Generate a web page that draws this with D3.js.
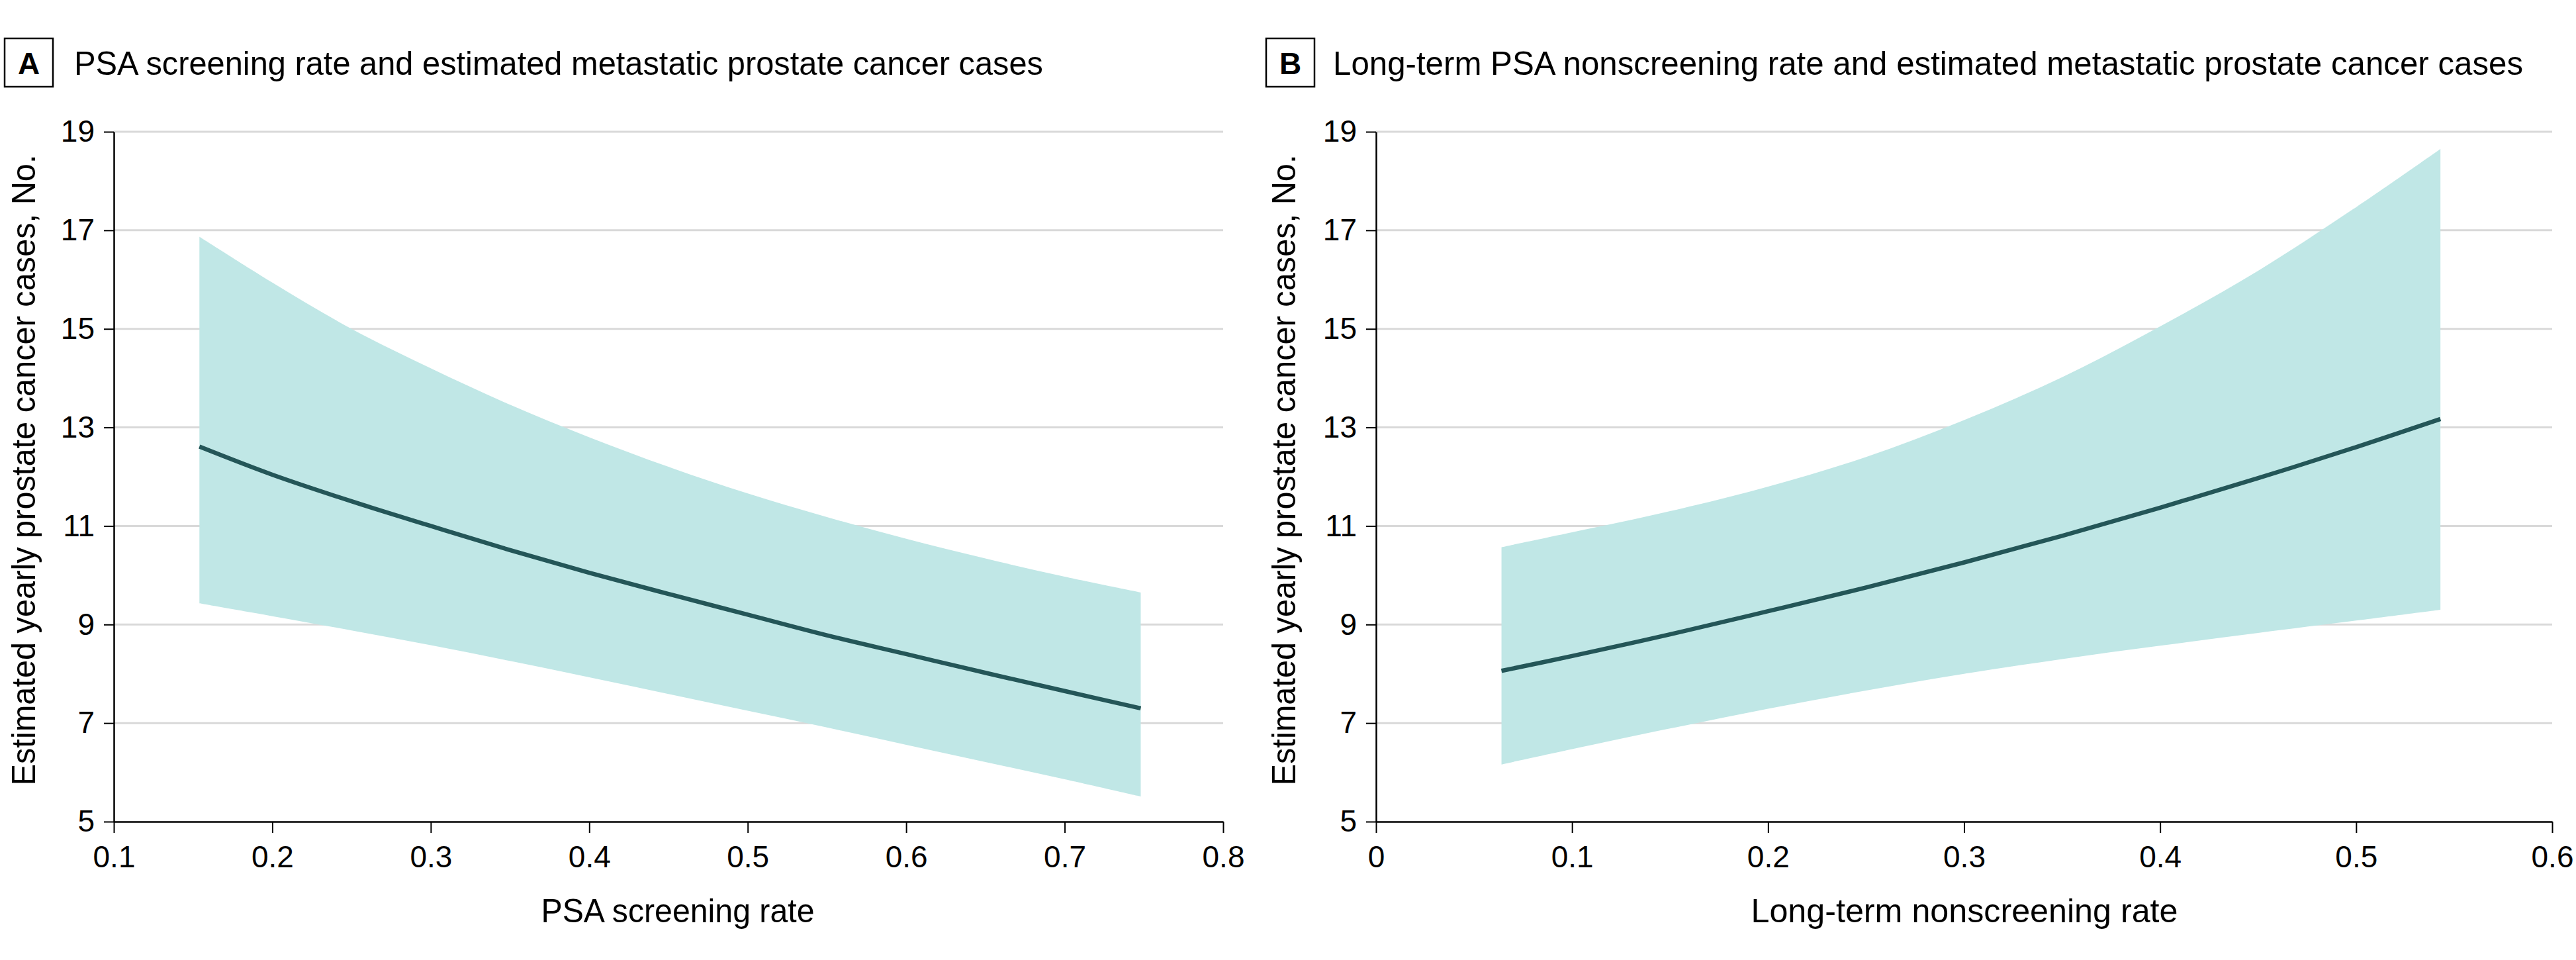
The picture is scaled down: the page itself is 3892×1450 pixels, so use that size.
<!DOCTYPE html>
<html>
<head>
<meta charset="utf-8">
<script src="https://cdn.jsdelivr.net/npm/d3@7"></script>
<style>
  html, body { margin: 0; padding: 0; background: #fff; }
  svg { display: block; }
  text { font-family: "Liberation Sans Narrow", "Liberation Sans", Arial, sans-serif; fill: #000; }
</style>
</head>
<body>
<svg id="chart" width="3892" height="1450"></svg>
<script>
// ---------- Data ----------
const yTicks = [5, 7, 9, 11, 13, 15, 17, 19];
const xTicksA = [0.1, 0.2, 0.3, 0.4, 0.5, 0.6, 0.7, 0.8];
const xTicksB = [0, 0.1, 0.2, 0.3, 0.4, 0.5, 0.6];

// Panel A: PSA screening rate
const xA     = [0.154, 0.2, 0.25, 0.3, 0.35, 0.4, 0.45, 0.5, 0.55, 0.6, 0.65, 0.7, 0.748];
const estA   = [12.61, 12.04, 11.5, 11.0, 10.51, 10.05, 9.62, 9.2, 8.78, 8.40, 8.02, 7.65, 7.30];
const upperA = [16.87, 15.94, 15.0, 14.2, 13.46, 12.8, 12.2, 11.66, 11.18, 10.74, 10.34, 9.97, 9.65];
const lowerA = [9.43, 9.17, 8.88, 8.58, 8.26, 7.93, 7.59, 7.25, 6.91, 6.56, 6.21, 5.86, 5.51];

// Panel B: Long-term nonscreening rate
const xB     = [0.064, 0.1, 0.15, 0.2, 0.25, 0.3, 0.35, 0.4, 0.45, 0.5, 0.543];
const estB   = [8.06, 8.36, 8.8, 9.27, 9.75, 10.26, 10.8, 11.37, 11.97, 12.6, 13.17];
const upperB = [10.57, 10.87, 11.3, 11.8, 12.4, 13.15, 14.02, 15.05, 16.18, 17.47, 18.65];
const lowerB = [6.16, 6.47, 6.89, 7.29, 7.66, 8.0, 8.3, 8.57, 8.83, 9.08, 9.30];

const panels = [
  { letter: "A", title: "PSA screening rate and estimated metastatic prostate cancer cases",
    xLabel: "PSA screening rate", xDomain: [0.1, 0.8], xTicks: xTicksA,
    x: xA, est: estA, upper: upperA, lower: lowerA },
  { letter: "B", title: "Long-term PSA nonscreening rate and estimated metastatic prostate cancer cases",
    xLabel: "Long-term nonscreening rate", xDomain: [0, 0.6], xTicks: xTicksB,
    x: xB, est: estB, upper: upperB, lower: lowerB }
];

// ---------- Layout ----------
const yLabel = "Estimated yearly prostate cancer cases, No.";
const layout = [
  { left: 172, right: 1848, titleX: 112, titleLen: 1464, boxX: 7, xLabelX: 1024, xLabelLen: 413, yLabelX: 53 },
  { left: 2079, right: 3856, titleX: 2014, titleLen: 1798, boxX: 1913, xLabelX: 2968, xLabelLen: 645, yLabelX: 1957 }
];
const plotTop = 199, plotBottom = 1241;
const bandColor = "#c0e7e6", lineColor = "#245658", gridColor = "#d9d9d9";

const svg = d3.select("#chart");
svg.append("rect").attr("width", 3892).attr("height", 1450).attr("fill", "#fff");

const fmt = d => d === 0 ? "0" : d3.format(".1f")(d);
const curve = d3.curveCatmullRom.alpha(0.5);

panels.forEach((p, i) => {
  const L = layout[i];
  const x = d3.scaleLinear().domain(p.xDomain).range([L.left, L.right]);
  const y = d3.scaleLinear().domain([5, 19]).range([plotBottom, plotTop]);
  const g = svg.append("g");

  // Title box + letter
  g.append("rect").attr("x", L.boxX).attr("y", 58).attr("width", 73).attr("height", 73)
    .attr("fill", "none").attr("stroke", "#000").attr("stroke-width", 2.5);
  g.append("text").attr("x", L.boxX + 36.5).attr("y", 112).attr("text-anchor", "middle")
    .style("font-family", "'Liberation Sans', Arial, sans-serif")
    .attr("font-size", 46).attr("font-weight", "bold").text(p.letter);
  g.append("text").attr("x", L.titleX).attr("y", 113).attr("font-size", 50)
    .attr("textLength", L.titleLen).attr("lengthAdjust", "spacingAndGlyphs").text(p.title);

  // Gridlines
  g.append("g").selectAll("line").data(yTicks.filter(v => v > 5)).join("line")
    .attr("x1", L.left).attr("x2", L.right)
    .attr("y1", d => y(d)).attr("y2", d => y(d))
    .attr("stroke", gridColor).attr("stroke-width", 3);

  // Band
  const rows = p.x.map((xv, k) => ({ x: xv, est: p.est[k], lo: p.lower[k], hi: p.upper[k] }));
  g.append("path").datum(rows)
    .attr("d", d3.area().x(d => x(d.x)).y0(d => y(d.lo)).y1(d => y(d.hi)).curve(curve))
    .attr("fill", bandColor);

  // Estimate line
  g.append("path").datum(rows)
    .attr("d", d3.line().x(d => x(d.x)).y(d => y(d.est)).curve(curve))
    .attr("fill", "none").attr("stroke", lineColor).attr("stroke-width", 6.5);

  // Y axis
  const yAxis = g.append("g").attr("transform", `translate(${L.left},0)`)
    .call(d3.axisLeft(y).tickValues(yTicks).tickSize(15).tickSizeOuter(0).tickPadding(14).tickFormat(d3.format("d")));
  yAxis.select(".domain").attr("stroke", "#000").attr("stroke-width", 2.5);
  yAxis.selectAll(".tick line").attr("stroke", "#000").attr("stroke-width", 2);
  yAxis.selectAll(".tick text").attr("font-size", 46).style("font-family", "'Liberation Sans', Arial, sans-serif");

  // X axis
  const xAxis = g.append("g").attr("transform", `translate(0,${plotBottom})`)
    .call(d3.axisBottom(x).tickValues(p.xTicks).tickSize(17).tickSizeOuter(0).tickPadding(19).tickFormat(fmt));
  xAxis.select(".domain").attr("stroke", "#000").attr("stroke-width", 2.5);
  xAxis.selectAll(".tick line").attr("stroke", "#000").attr("stroke-width", 2);
  xAxis.selectAll(".tick text").attr("font-size", 46).style("font-family", "'Liberation Sans', Arial, sans-serif");

  // Axis labels
  g.append("text").attr("x", L.xLabelX).attr("y", 1393).attr("text-anchor", "middle")
    .attr("font-size", 50).attr("textLength", L.xLabelLen).attr("lengthAdjust", "spacingAndGlyphs")
    .text(p.xLabel);
  g.append("text").attr("transform", `translate(${L.yLabelX},710) rotate(-90)`)
    .attr("text-anchor", "middle").attr("font-size", 50)
    .attr("textLength", 953).attr("lengthAdjust", "spacingAndGlyphs").text(yLabel);
});
</script>
</body>
</html>
